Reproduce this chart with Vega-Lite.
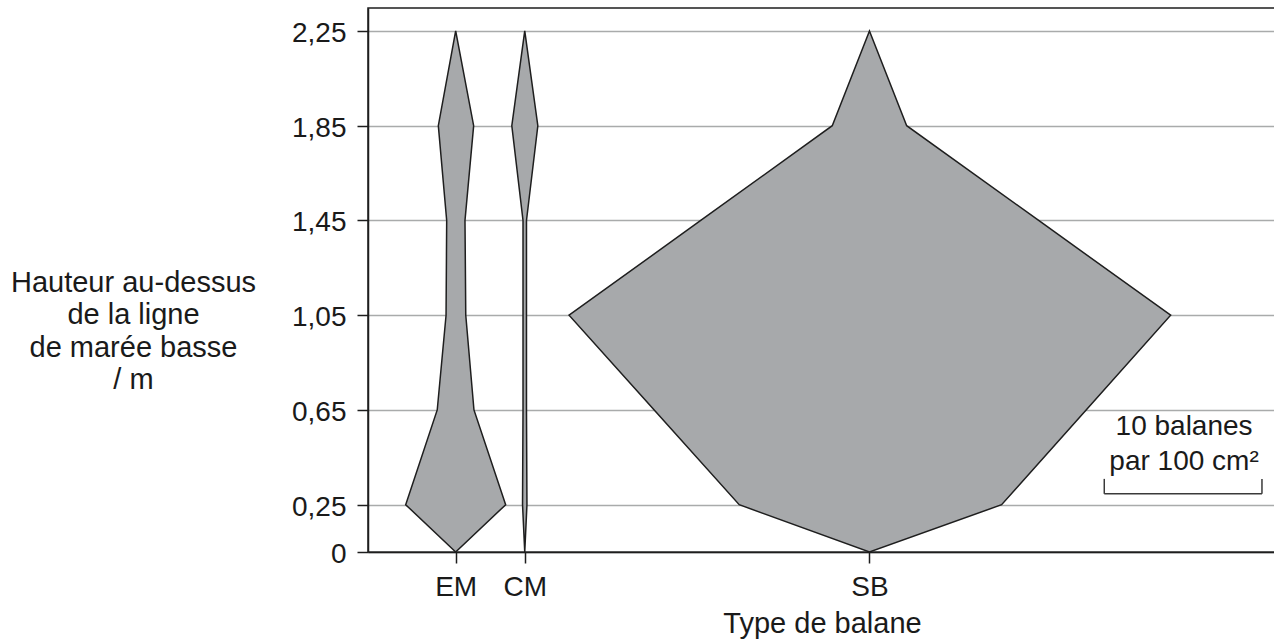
{
  "$schema": "https://vega.github.io/schema/vega-lite/v6.json",
  "autosize": {"type": "none"},
  "padding": {"left": 368, "top": 8, "right": 0, "bottom": 91},
  "width": 908,
  "height": 544,
  "background": "white",
  "config": {
    "font": "Liberation Sans",
    "view": {"stroke": "#1e1e1e", "strokeWidth": 1.5},
    "axis": {
      "domainColor": "#1e1e1e",
      "domainWidth": 1.5,
      "tickColor": "#1e1e1e",
      "tickWidth": 1.5,
      "tickSize": 11,
      "labelFont": "Liberation Sans",
      "labelFontSize": 28,
      "labelColor": "#1a1a1a",
      "titleFont": "Liberation Sans",
      "titleFontSize": 29,
      "titleFontWeight": "normal",
      "titleColor": "#1a1a1a"
    }
  },
  "datasets": {
    "kites": [
      {"type": "EM", "hauteur": 0, "gauche": 5.56, "droite": 5.56},
      {"type": "EM", "hauteur": 0.25, "gauche": 2.39, "droite": 8.73},
      {"type": "EM", "hauteur": 0.65, "gauche": 4.39, "droite": 6.72},
      {"type": "EM", "hauteur": 1.05, "gauche": 4.95, "droite": 6.2},
      {"type": "EM", "hauteur": 1.45, "gauche": 4.99, "droite": 6.15},
      {"type": "EM", "hauteur": 1.85, "gauche": 4.46, "droite": 6.7},
      {"type": "EM", "hauteur": 2.25, "gauche": 5.56, "droite": 5.56},
      {"type": "CM", "hauteur": 0, "gauche": 9.94, "droite": 9.94},
      {"type": "CM", "hauteur": 0.25, "gauche": 9.8, "droite": 10.08},
      {"type": "CM", "hauteur": 0.65, "gauche": 9.83, "droite": 10.05},
      {"type": "CM", "hauteur": 1.05, "gauche": 9.83, "droite": 10.05},
      {"type": "CM", "hauteur": 1.45, "gauche": 9.83, "droite": 10.05},
      {"type": "CM", "hauteur": 1.85, "gauche": 9.12, "droite": 10.77},
      {"type": "CM", "hauteur": 2.25, "gauche": 9.94, "droite": 9.94},
      {"type": "SB", "hauteur": 0, "gauche": 31.8, "droite": 31.8},
      {"type": "SB", "hauteur": 0.25, "gauche": 23.54, "droite": 40.18},
      {"type": "SB", "hauteur": 0.65, "gauche": 18.15, "droite": 45.54},
      {"type": "SB", "hauteur": 1.05, "gauche": 12.75, "droite": 50.9},
      {"type": "SB", "hauteur": 1.45, "gauche": 21.1, "droite": 42.53},
      {"type": "SB", "hauteur": 1.85, "gauche": 29.44, "droite": 34.16},
      {"type": "SB", "hauteur": 2.25, "gauche": 31.8, "droite": 31.8}
    ],
    "echelle": [
      {"x": 46.69, "x2": 56.69, "y": 0.296, "y2": 0.296},
      {"x": 46.69, "x2": 46.69, "y": 0.296, "y2": 0.359},
      {"x": 56.69, "x2": 56.69, "y": 0.296, "y2": 0.359}
    ],
    "legende": [
      {"x": 51.75, "y": 0.544, "texte": "10 balanes"},
      {"x": 51.75, "y": 0.397, "texte": "par 100 cm²"}
    ]
  },
  "layer": [
    {
      "data": {"name": "kites"},
      "mark": {
        "type": "area",
        "orient": "horizontal",
        "fill": "#a7a9ab",
        "fillOpacity": 1,
        "stroke": "#1e1e1e",
        "strokeWidth": 1.5,
        "strokeJoin": "miter"
      },
      "encoding": {
        "y": {
          "field": "hauteur",
          "type": "quantitative",
          "scale": {"domain": [0, 0.25, 2.347], "range": [544, 496.7, 0], "nice": false, "zero": false},
          "axis": {
            "values": [0, 0.25, 0.65, 1.05, 1.45, 1.85, 2.25],
            "labelExpr": "datum.value == 0 ? '0' : replace(format(datum.value, '.2f'), '.', ',')",
            "grid": true,
            "gridColor": "#a9abab",
            "gridWidth": 1.5,
            "labelPadding": 11,
            "labelOffset": 2.5,
            "title": ["Hauteur au-dessus", "de la ligne", "de marée basse", "/ m"],
            "titleAngle": 0,
            "titleAlign": "center",
            "titleBaseline": "alphabetic",
            "titleX": -235,
            "titleY": 283,
            "titleLineHeight": 32.5
          }
        },
        "x": {
          "field": "gauche",
          "type": "quantitative",
          "stack": null,
          "scale": {"domain": [0, 57.58], "nice": false, "zero": false},
          "axis": {
            "values": [5.56, 9.94, 31.8],
            "labelExpr": "datum.value < 7 ? 'EM' : datum.value < 20 ? 'CM' : 'SB'",
            "grid": false,
            "labelPadding": 10,
            "title": "Type de balane",
            "titleBaseline": "alphabetic",
            "titleY": 80
          }
        },
        "x2": {"field": "droite"},
        "detail": {"field": "type"}
      }
    },
    {
      "data": {"name": "echelle"},
      "mark": {"type": "rule", "stroke": "#3a3a3a", "strokeWidth": 1.5},
      "encoding": {
        "x": {"field": "x", "type": "quantitative"},
        "x2": {"field": "x2"},
        "y": {"field": "y", "type": "quantitative"},
        "y2": {"field": "y2"}
      }
    },
    {
      "data": {"name": "legende"},
      "mark": {"type": "text", "font": "Liberation Sans", "fontSize": 28, "color": "#1a1a1a", "align": "center", "baseline": "alphabetic"},
      "encoding": {
        "x": {"field": "x", "type": "quantitative"},
        "y": {"field": "y", "type": "quantitative"},
        "text": {"field": "texte"}
      }
    }
  ]
}
